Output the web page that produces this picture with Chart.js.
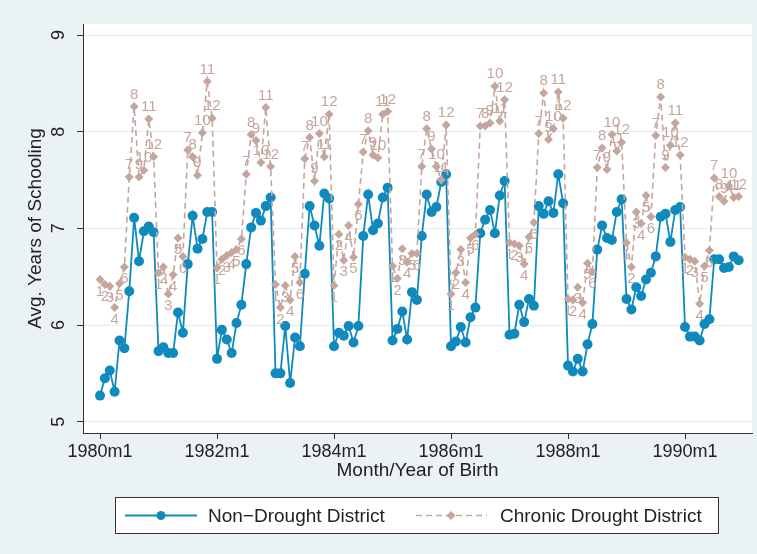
<!DOCTYPE html>
<html>
<head>
<meta charset="utf-8">
<script src="https://cdn.jsdelivr.net/npm/chart.js@4"></script>
<style>
  html, body { margin: 0; padding: 0; background: #eaf2f3; }
  #wrap { width: 757px; height: 554px; }
</style>
</head>
<body>
<div id="wrap"><canvas id="schooling" width="757" height="554"></canvas></div>
<script>
"use strict";

// Monthly birth cohorts, 1980m1 .. 1990m12
const nonDrought = [
  5.27, 5.45, 5.53, 5.31, 5.84, 5.76, 6.35, 7.11, 6.66, 6.97, 7.02, 6.96,
  5.73, 5.77, 5.71, 5.71, 6.13, 5.92, 6.63, 7.13, 6.79, 6.89, 7.17, 7.17,
  5.65, 5.95, 5.85, 5.71, 6.02, 6.21, 6.63, 7.01, 7.16, 7.08, 7.23, 7.32,
  5.50, 5.50, 5.99, 5.40, 5.87, 5.78, 6.53, 7.23, 7.03, 6.82, 7.36, 7.31,
  5.78, 5.92, 5.89, 5.99, 5.82, 5.99, 6.92, 7.35, 6.98, 7.05, 7.32, 7.42,
  5.84, 5.96, 6.14, 5.85, 6.34, 6.26, 6.92, 7.35, 7.17, 7.22, 7.48, 7.56,
  5.78, 5.83, 5.98, 5.82, 6.08, 6.18, 6.95, 7.09, 7.19, 6.95, 7.34, 7.49,
  5.90, 5.91, 6.21, 6.03, 6.27, 6.20, 7.23, 7.15, 7.28, 7.16, 7.56, 7.26,
  5.58, 5.52, 5.65, 5.52, 5.80, 6.01, 6.78, 7.03, 6.90, 6.88, 7.17, 7.30,
  6.27, 6.16, 6.39, 6.30, 6.47, 6.54, 6.71, 7.12, 7.15, 6.86, 7.19, 7.22,
  5.98, 5.88, 5.88, 5.84, 6.01, 6.06, 6.68, 6.68, 6.59, 6.60, 6.71, 6.67
];

const chronicDrought = [
  6.47, 6.42, 6.40, 6.18, 6.43, 6.60, 7.53, 8.26, 7.53, 7.60, 8.13, 7.74,
  6.54, 6.60, 6.32, 6.52, 6.90, 6.71, 7.81, 7.74, 7.55, 7.99, 8.52, 8.14,
  6.59, 6.68, 6.72, 6.75, 6.78, 6.89, 7.56, 7.97, 7.91, 7.68, 8.25, 7.64,
  6.42, 6.18, 6.41, 6.26, 6.71, 6.44, 7.72, 7.94, 7.49, 7.98, 7.74, 8.18,
  6.41, 6.94, 6.67, 7.03, 6.70, 7.25, 7.79, 8.01, 7.76, 7.73, 8.18, 8.21,
  6.61, 6.48, 6.79, 6.65, 6.74, 6.74, 7.64, 8.03, 7.82, 7.64, 7.50, 8.07,
  6.32, 6.54, 6.78, 6.44, 6.90, 6.94, 8.06, 8.06, 8.09, 8.47, 8.11, 8.33,
  6.85, 6.84, 6.82, 6.63, 6.91, 7.06, 7.98, 8.40, 7.92, 8.03, 8.41, 8.14,
  6.27, 6.26, 6.39, 6.23, 6.64, 6.55, 7.63, 7.83, 7.61, 7.97, 7.80, 7.89,
  6.85, 6.60, 7.17, 7.05, 7.34, 7.12, 7.96, 8.36, 7.63, 7.86, 8.09, 7.76,
  6.70, 6.68, 6.66, 6.22, 6.61, 6.77, 7.52, 7.33, 7.28, 7.44, 7.32, 7.33
];

const xTickMonths = [0, 24, 48, 72, 96, 120];
const xTickLabels = ['1980m1', '1982m1', '1984m1', '1986m1', '1988m1', '1990m1'];
const yTickValues = [5, 6, 7, 8, 9];

const seriesNames = ['Non\u2212Drought District', 'Chronic Drought District'];

const BLUE = '#1089bd';
const TAN = '#c4a69c';
const INK = '#222';
const FONT = "'Liberation Sans', Arial, sans-serif";

Chart.defaults.font.family = FONT;
Chart.defaults.color = INK;

// light outer region, white plot region
const plotBackground = {
  id: 'plotBackground',
  beforeDraw(chart) {
    const { ctx, chartArea: a } = chart;
    ctx.save();
    ctx.fillStyle = '#eaf2f3';
    ctx.fillRect(0, 0, chart.width, chart.height);
    ctx.fillStyle = '#ffffff';
    ctx.fillRect(a.left, a.top, a.right - a.left, a.bottom - a.top);
    ctx.restore();
  }
};

// month number next to every drought marker: Jan-Jun below, Jul-Dec above
const monthLabels = {
  id: 'monthLabels',
  afterDatasetsDraw(chart) {
    const meta = chart.getDatasetMeta(1);
    const ctx = chart.ctx;
    ctx.save();
    ctx.font = '15px ' + FONT;
    ctx.fillStyle = TAN;
    ctx.textAlign = 'center';
    ctx.textBaseline = 'middle';
    meta.data.forEach((pt, i) => {
      const month = (i % 12) + 1;
      const dy = month <= 6 ? 12 : -12;
      ctx.fillText(String(month), pt.x, pt.y + dy);
    });
    ctx.restore();
  }
};

// boxed legend under the axis title
const legendBox = {
  id: 'legendBox',
  afterDraw(chart) {
    const ctx = chart.ctx;
    const bx = 115.5, by = 497.5, bw = 603, bh = 36;
    const y = by + bh / 2;
    ctx.save();
    ctx.fillStyle = '#ffffff';
    ctx.fillRect(bx, by, bw, bh);
    ctx.strokeStyle = '#333';
    ctx.lineWidth = 1;
    ctx.strokeRect(bx, by, bw, bh);

    // solid line + circle
    ctx.strokeStyle = BLUE;
    ctx.lineWidth = 1.8;
    ctx.beginPath();
    ctx.moveTo(125, y);
    ctx.lineTo(197, y);
    ctx.stroke();
    ctx.fillStyle = BLUE;
    ctx.beginPath();
    ctx.arc(161, y, 4.5, 0, Math.PI * 2);
    ctx.fill();

    // dashed line + diamond
    ctx.strokeStyle = TAN;
    ctx.lineWidth = 1.6;
    ctx.setLineDash([6, 4]);
    ctx.beginPath();
    ctx.moveTo(416, y);
    ctx.lineTo(487, y);
    ctx.stroke();
    ctx.setLineDash([]);
    ctx.fillStyle = TAN;
    ctx.beginPath();
    ctx.moveTo(451, y - 4.5);
    ctx.lineTo(455.5, y);
    ctx.lineTo(451, y + 4.5);
    ctx.lineTo(446.5, y);
    ctx.closePath();
    ctx.fill();

    ctx.fillStyle = INK;
    ctx.font = '19px ' + FONT;
    ctx.textAlign = 'left';
    ctx.textBaseline = 'middle';
    ctx.fillText(seriesNames[0], 208, y + 1);
    ctx.fillText(seriesNames[1], 500, y + 1);
    ctx.restore();
  }
};

const ctx = document.getElementById('schooling').getContext('2d');

new Chart(ctx, {
  type: 'line',
  data: {
    datasets: [
      {
        label: seriesNames[0],
        data: nonDrought.map((v, i) => ({ x: i, y: v })),
        borderColor: BLUE,
        backgroundColor: BLUE,
        borderWidth: 1.8,
        pointStyle: 'circle',
        pointRadius: 5,
        pointBorderWidth: 0,
        tension: 0,
        order: 2
      },
      {
        label: seriesNames[1],
        data: chronicDrought.map((v, i) => ({ x: i, y: v })),
        borderColor: TAN,
        backgroundColor: TAN,
        borderWidth: 1.6,
        borderDash: [6, 4],
        pointStyle: 'rectRot',
        pointRadius: 4.5,
        pointBorderWidth: 0,
        tension: 0,
        order: 1
      }
    ]
  },
  options: {
    responsive: false,
    animation: false,
    layout: { padding: { top: 24, right: 5, left: 0, bottom: 0 } },
    plugins: {
      legend: { display: false },
      tooltip: { enabled: false }
    },
    scales: {
      x: {
        type: 'linear',
        min: -3.49,
        max: 133.74,
        afterBuildTicks(scale) { scale.ticks = xTickMonths.map(v => ({ value: v })); },
        afterFit(scale) { scale.height = 121; },
        ticks: {
          autoSkip: false,
          maxRotation: 0,
          padding: 2,
          font: { size: 18 },
          color: INK,
          callback: (v, i) => xTickLabels[i]
        },
        grid: { drawOnChartArea: false, drawTicks: true, tickLength: 6, tickColor: '#333' },
        border: { display: true, color: '#333', width: 1 },
        title: {
          display: true,
          text: 'Month/Year of Birth',
          font: { size: 19 },
          color: INK,
          padding: { top: 0, bottom: 72 }
        }
      },
      y: {
        min: 4.883,
        max: 9.114,
        afterBuildTicks(scale) { scale.ticks = yTickValues.map(v => ({ value: v })); },
        afterFit(scale) { scale.width = 83; },
        ticks: {
          minRotation: 90,
          maxRotation: 90,
          crossAlign: 'center',
          padding: 13,
          font: { size: 18 },
          color: INK
        },
        grid: { color: '#e3ecef', lineWidth: 1, tickColor: '#333', tickLength: 6 },
        border: { display: true, color: '#333', width: 1 },
        title: {
          display: true,
          text: 'Avg. Years of Schooling',
          font: { size: 19 },
          color: INK,
          padding: { top: 24, bottom: 0 }
        }
      }
    }
  },
  plugins: [plotBackground, monthLabels, legendBox]
});
</script>
</body>
</html>
